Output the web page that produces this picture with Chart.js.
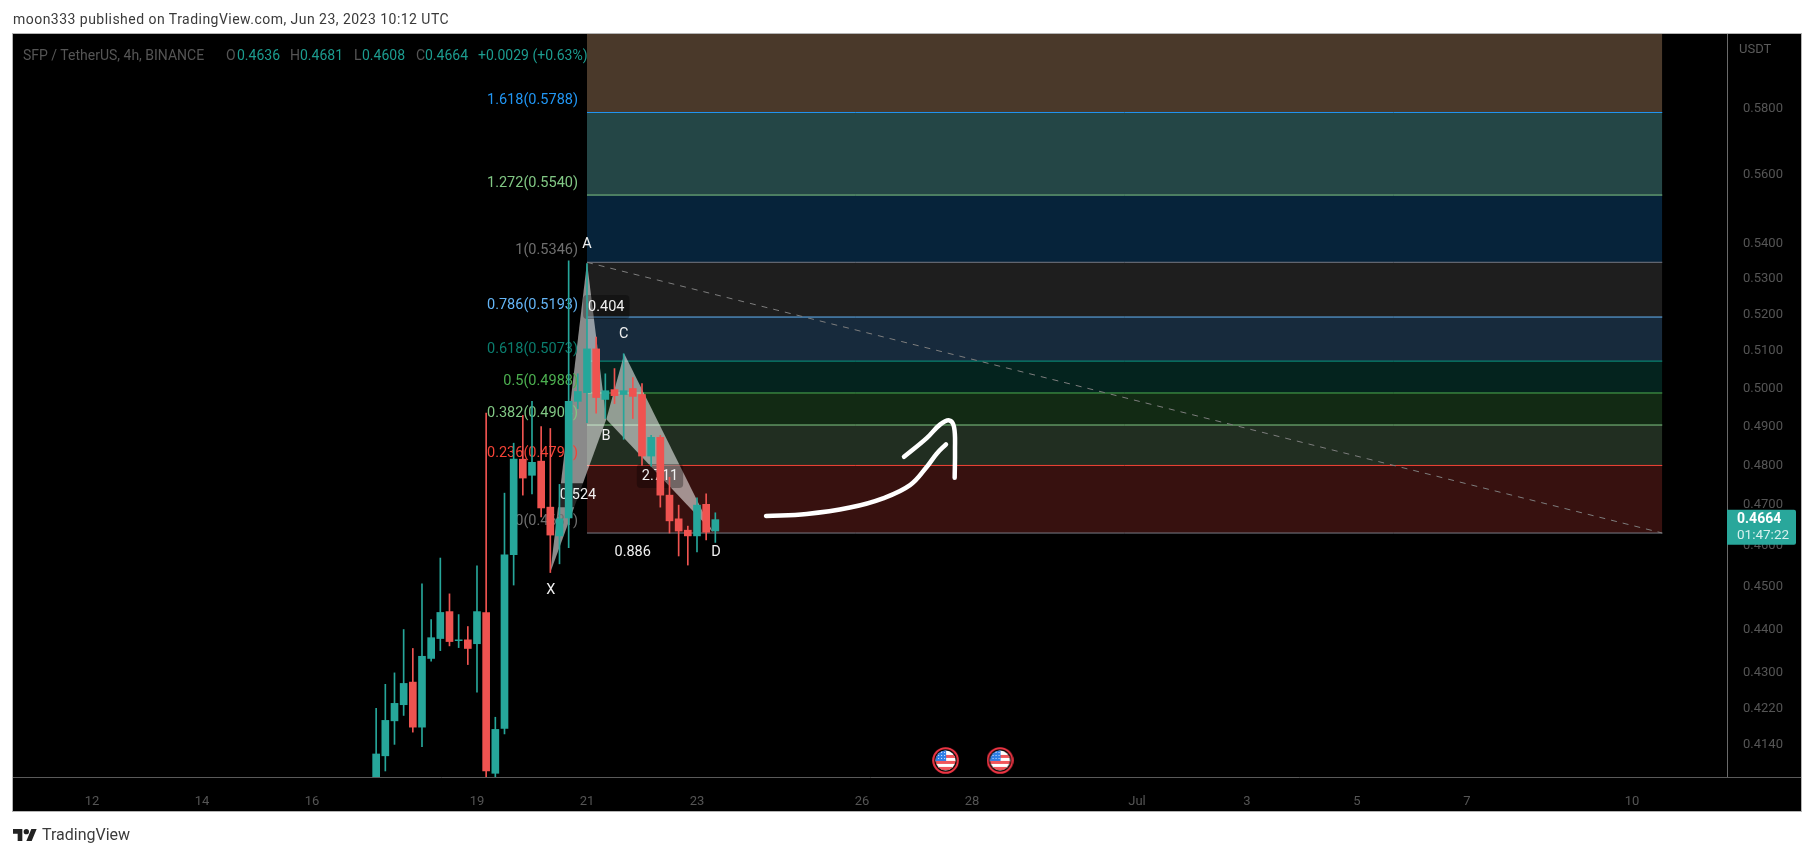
<!DOCTYPE html>
<html lang="en">
<head>
<meta charset="UTF-8">
<title>SFP / TetherUS</title>
<script src="https://cdn.jsdelivr.net/npm/chart.js@4/dist/chart.umd.min.js"></script>
<style>
    html, body { margin: 0; padding: 0; background: #fff; overflow: hidden; }
    body { width: 1815px; height: 856px; position: relative; font-family: Roboto, sans-serif; }
    canvas { position: absolute; left: 0; top: 0; }
    .txt { position: absolute; white-space: nowrap; }
    #published { left: 13px; top: 11px; font-size: 14px; color: #3a3a3a; letter-spacing: 0.47px; }
    #legend { left: 23px; top: 47px; font-size: 14px; color: #555; }
    #legend span { position: absolute; top: 0; }
    #legend .v { color: #1c9c8f; }
    #footer { left: 42px; top: 825px; font-size: 16px; color: #3c3c3c; }
    #logo { position: absolute; left: 13px; top: 829px; }
</style>
</head>
<body>
<canvas id="chart" width="1815" height="856"></canvas>
<div class="txt" id="published">moon333 published on TradingView.com, Jun 23, 2023 10:12 UTC</div>
<div class="txt" id="legend">
    <span style="left:0">SFP / TetherUS, 4h, BINANCE</span>
    <span style="left:203px">O</span><span class="v" style="left:214px">0.4636</span>
    <span style="left:267px">H</span><span class="v" style="left:277px">0.4681</span>
    <span style="left:331px">L</span><span class="v" style="left:339px">0.4608</span>
    <span style="left:393px">C</span><span class="v" style="left:402px">0.4664</span>
    <span class="v" style="left:455px">+0.0029 (+0.63%)</span>
</div>
<svg id="logo" width="24" height="12" viewBox="0 4 36 18"><path fill="#222" d="M14 22H7V11H0V4h14v18zM28 22h-8l7.5-18h8L28 22z"/><circle fill="#222" cx="20" cy="8" r="4"/></svg>
<div class="txt" id="footer">TradingView</div>
<script>
    // candles, 4h, hours counted from Jun 17 00:00
    const candleHours = [4, 8, 12, 16, 20, 24, 28, 32, 36, 40, 44, 48, 52, 56, 60, 64, 68, 72, 76, 80, 84, 88, 92, 96, 100, 104, 108, 112, 116, 120, 124, 128, 132, 136, 140, 144, 148, 152];
    const opens  = [0.4040, 0.4115, 0.4192, 0.4228, 0.4279, 0.4178, 0.4333, 0.4379, 0.4442, 0.4374, 0.4376, 0.4367, 0.4440, 0.4077, 0.4175, 0.4578, 0.4816, 0.4775, 0.4811, 0.4695, 0.4624, 0.4668, 0.4966, 0.4989, 0.5106, 0.4971, 0.4997, 0.4984, 0.5000, 0.4984, 0.4824, 0.4872, 0.4725, 0.4666, 0.4638, 0.4624, 0.4702, 0.4636];
    const highs  = [0.4220, 0.4274, 0.4300, 0.4400, 0.4356, 0.4508, 0.4423, 0.4570, 0.4484, 0.4435, 0.4407, 0.4551, 0.4935, 0.4200, 0.4730, 0.4857, 0.4929, 0.4966, 0.4900, 0.4895, 0.4752, 0.5350, 0.5039, 0.5342, 0.5138, 0.5039, 0.5053, 0.5093, 0.5029, 0.5013, 0.4877, 0.4877, 0.4770, 0.4700, 0.4648, 0.4718, 0.4728, 0.4681];
    const lows   = [0.4000, 0.4082, 0.4140, 0.4204, 0.4167, 0.4135, 0.4327, 0.4351, 0.4362, 0.4358, 0.4319, 0.4256, 0.4043, 0.4069, 0.4163, 0.4505, 0.4725, 0.4728, 0.4671, 0.4535, 0.4556, 0.4595, 0.4947, 0.4910, 0.4935, 0.4921, 0.4960, 0.4867, 0.4921, 0.4800, 0.4798, 0.4695, 0.4631, 0.4575, 0.4553, 0.4585, 0.4614, 0.4608];
    const closes = [0.4119, 0.4193, 0.4231, 0.4276, 0.4178, 0.4338, 0.4381, 0.4440, 0.4372, 0.4376, 0.4356, 0.4442, 0.4082, 0.4173, 0.4578, 0.4816, 0.4768, 0.4808, 0.4693, 0.4626, 0.4666, 0.4966, 0.4992, 0.5106, 0.4976, 0.4994, 0.4981, 0.4994, 0.4979, 0.4824, 0.4872, 0.4725, 0.4661, 0.4636, 0.4624, 0.4700, 0.4633, 0.4664];

    // axis ticks
    const tickDays = [12, 14, 16, 19, 21, 23, 26, 28, 31, 33, 35, 37, 40];
    const tickLabels = ['12', '14', '16', '19', '21', '23', '26', '28', 'Jul', '3', '5', '7', '10'];
    const priceTicks = [0.58, 0.56, 0.54, 0.53, 0.52, 0.51, 0.50, 0.49, 0.48, 0.47, 0.46, 0.45, 0.44, 0.43, 0.422, 0.414];

    // fib retracement, top to bottom
    const fibNames  = ['1.618', '1.272', '1', '0.786', '0.618', '0.5', '0.382', '0.236', '0'];
    const fibPrices = [0.5788, 0.5540, 0.5346, 0.5193, 0.5073, 0.4988, 0.4904, 0.4800, 0.4631];
    const fibText   = ['0.5788', '0.5540', '0.5346', '0.5193', '0.5073', '0.4988', '0.4904', '0.4799', '0.4631'];
    const fibDays   = [21, 40.55];

    // harmonic pattern XABCD
    const patternDays   = [20.333, 21, 21.351, 21.678, 23.29];
    const patternPrices = [0.4535, 0.5346, 0.4919, 0.5093, 0.4633];
    const noteLabels = ['A', '0.404', 'C', 'B', 'D', '0.886', 'X', '2.711', '0.524'];
    const noteDays   = [21, 21.351, 21.667, 21.345, 23.345, 21.831, 20.34, 22.327, 20.836];
    const notePrices = [0.5398, 0.5221, 0.5145, 0.4875, 0.4583, 0.4583, 0.4492, 0.4773, 0.4725];

    // hand drawn arrow
    const arrowDays1   = [24.255, 24.995, 25.782, 26.382, 26.873, 27.176, 27.358, 27.527];
    const arrowPrices1 = [0.4673, 0.4678, 0.4694, 0.4717, 0.4750, 0.4796, 0.4830, 0.4854];
    const arrowDays2   = [26.764, 27.176, 27.418, 27.587, 27.673, 27.691, 27.685];
    const arrowPrices2 = [0.4822, 0.4870, 0.4905, 0.4916, 0.4899, 0.4839, 0.4769];

    const eventDays = [27.52, 28.51];
    const eventPrice = 0.4105;
    const lastPrice = 0.4664;
    const countdown = '01:47:22';

    // styles
    const GREEN = '#26a69a', RED = '#ef5350';
    const fibLine = ['#2196f3', '#81c784', '#787b86', '#64b5f6', '#089981', '#4caf50', '#81c784', '#f44336', '#787b86'];
    const fibFill = ['#244646', '#06233a', '#1e1e1e', '#172a3c', '#04231e', '#122a14', '#212e21', '#37110f'];
    const fibTextColor = ['#2196f3', '#81c784', '#6f6f6f', '#64b5f6', '#0b7d6e', '#4caf50', '#81c784', '#f44336', '#6f6f6f'];
    const noteShade = [0, 0.3, 0, 0, 0, 0, 0, 0.3, 0.72];
    const FONT = 'Roboto, sans-serif';

    const toDay = h => 17 + h / 24;
    const pairs = (xs, ys) => xs.map((x, i) => ({ x: x, y: ys[i] }));

    function lineSet(data, extra) {
        return Object.assign({
            type: 'line', data: data, pointRadius: 0, borderWidth: 1, tension: 0, fill: false, order: 9
        }, extra);
    }

    const datasets = [];
    const fibRow = p => [{ x: fibDays[0], y: p }, { x: fibDays[1], y: p }];

    // band fills first, so the level lines stay on top of them
    fibPrices.forEach((p, i) => {
        const fill = i === fibPrices.length - 1 ? false : { target: '+1', above: fibFill[i], below: fibFill[i] };
        datasets.push(lineSet(fibRow(p), { borderWidth: 0, fill: fill, order: 10 }));
    });
    // band above 1.618 runs to the top of the pane
    datasets.push(lineSet(fibRow(fibPrices[0]), { borderWidth: 0, fill: 'end', backgroundColor: '#4a392a', order: 11 }));
    fibPrices.forEach((p, i) => {
        datasets.push(lineSet(fibRow(p), { borderColor: fibLine[i] }));
    });

    // dashed trend line
    datasets.push(lineSet([{ x: fibDays[0], y: fibPrices[2] }, { x: fibDays[1], y: fibPrices[8] }], {
        borderColor: '#7d7d7d', borderDash: [6, 6], order: 8
    }));

    // two triangles, each an upper path filled down to its base
    const triFill = 'rgba(255,255,255,0.54)';
    [[0, 1, 2], [2, 3, 4]].forEach(t => {
        datasets.push(lineSet(t.map(k => ({ x: patternDays[k], y: patternPrices[k] })), {
            borderWidth: 0, order: 6, fill: { target: '+1', above: triFill, below: triFill }
        }));
        datasets.push(lineSet([t[0], t[2]].map(k => ({ x: patternDays[k], y: patternPrices[k] })), {
            borderWidth: 0, order: 6
        }));
    });

    // candles: wicks then bodies
    const candleColors = opens.map((o, i) => closes[i] >= o ? GREEN : RED);
    const wickIndex = datasets.length;
    datasets.push({
        type: 'bar', order: 2, grouped: false, barThickness: 1, backgroundColor: candleColors,
        data: candleHours.map((h, i) => ({ x: toDay(h), y: [lows[i], highs[i]] }))
    });
    datasets.push({
        type: 'bar', order: 1, grouped: false, barThickness: 7, backgroundColor: candleColors,
        data: candleHours.map((h, i) => ({ x: toDay(h), y: [Math.min(opens[i], closes[i]), Math.max(opens[i], closes[i])] }))
    });

    // arrow
    [[arrowDays1, arrowPrices1], [arrowDays2, arrowPrices2]].forEach(a => {
        datasets.push(lineSet(pairs(a[0], a[1]), {
            borderColor: '#fff', borderWidth: 4.5, borderCapStyle: 'round', borderJoinStyle: 'round', tension: 0.4, order: 0
        }));
    });

    // event marker: red ring, black gap, round flag
    function flagIcon() {
        const c = document.createElement('canvas');
        c.width = 27; c.height = 27;
        const g = c.getContext('2d');
        const disc = (r, col) => { g.beginPath(); g.arc(13.5, 13.5, r, 0, Math.PI * 2); g.fillStyle = col; g.fill(); };
        disc(13.3, '#f23645');
        disc(11.2, '#000');
        disc(10, '#fff');
        g.clip();
        g.fillStyle = '#f0555a';
        g.fillRect(0, 8, 27, 3);
        g.fillRect(0, 14, 27, 3);
        g.fillRect(0, 20, 27, 3);
        g.fillStyle = '#2f7fe6';
        g.fillRect(3, 3, 11, 11);
        g.fillStyle = '#dfeaff';
        for (let y = 5; y < 14; y += 3) for (let x = 6; x < 14; x += 3) g.fillRect(x, y, 1, 1);
        return c;
    }
    datasets.push({
        type: 'scatter', order: 0, pointStyle: flagIcon(), pointRadius: 13,
        data: eventDays.map(d => ({ x: d, y: eventPrice }))
    });

    // pane background and outer border
    const framePlugin = {
        id: 'frame',
        beforeDraw(chart) {
            const a = chart.chartArea, g = chart.ctx;
            g.save();
            g.fillStyle = '#000';
            g.fillRect(a.left, a.top, 1802 - a.left, 812 - a.top);
            g.restore();
        },
        afterDraw(chart) {
            const a = chart.chartArea, g = chart.ctx, y = chart.scales.y;
            g.save();
            g.strokeStyle = '#5a5a5a';
            g.beginPath(); g.moveTo(a.right, a.bottom + 0.5); g.lineTo(1802, a.bottom + 0.5); g.stroke();
            g.strokeStyle = '#b4b4b4';
            g.strokeRect(a.left - 0.5, a.top - 0.5, 1802 - a.left, 812 - a.top);
            g.font = '13px ' + FONT;
            g.fillStyle = '#5a5a5a';
            g.textBaseline = 'middle';
            g.fillText('USDT', a.right + 12, 50);

            // last price tag
            const top = y.getPixelForValue(lastPrice) - 10;
            g.fillStyle = '#29a79b';
            g.beginPath(); g.roundRect(a.right, top, 69, 35, [0, 2, 2, 0]); g.fill();
            g.font = 'bold 14px ' + FONT;
            g.fillStyle = '#fff';
            g.fillText(lastPrice.toFixed(4), a.right + 10, top + 10);
            g.font = '13.5px ' + FONT;
            g.fillStyle = '#d7f1ee';
            g.fillText(countdown, a.right + 10, top + 26);
            g.restore();
        }
    };

    // fib and pattern labels sit under the candles
    const labelPlugin = {
        id: 'labels',
        beforeDatasetDraw(chart, args) {
            if (args.index !== wickIndex) return;
            const g = chart.ctx, x = chart.scales.x, y = chart.scales.y;
            g.save();
            g.textBaseline = 'middle';
            g.font = '14.5px ' + FONT;
            g.textAlign = 'right';
            const left = x.getPixelForValue(fibDays[0]);
            fibNames.forEach((n, i) => {
                g.fillStyle = fibTextColor[i];
                g.fillText(n + '(' + fibText[i] + ')', left - 9, y.getPixelForValue(fibPrices[i]) - 12);
            });
            g.textAlign = 'center';
            noteLabels.forEach((n, i) => {
                const px = x.getPixelForValue(noteDays[i]), py = y.getPixelForValue(notePrices[i]);
                if (noteShade[i] > 0) {
                    const w = g.measureText(n).width + 10;
                    // the shade only shows on the triangle, stop it at the band edge
                    const end = px < left ? Math.min(px + w / 2, left) : px + w / 2;
                    g.fillStyle = 'rgba(0,0,0,' + noteShade[i] + ')';
                    g.beginPath(); g.roundRect(px - w / 2, py - 12, end - px + w / 2, 24, 4); g.fill();
                }
                g.fillStyle = '#f0f0f0';
                g.fillText(n, px, py);
            });
            g.restore();
        }
    };

    new Chart(document.getElementById('chart'), {
        type: 'bar',
        data: { datasets: datasets },
        plugins: [framePlugin, labelPlugin],
        options: {
            responsive: false,
            animation: false,
            events: [],
            devicePixelRatio: 1,
            layout: { autoPadding: false, padding: { left: 13, top: 34, right: 13, bottom: 44 } },
            plugins: { legend: { display: false }, tooltip: { enabled: false }, filler: { propagate: false } },
            scales: {
                x: {
                    type: 'linear', offset: false, min: 10.564, max: 41.727,
                    afterFit(s) { s.height = 35; },
                    afterBuildTicks(s) { s.ticks = tickDays.map(d => ({ value: d })); },
                    grid: { display: false },
                    border: { color: '#5a5a5a' },
                    ticks: {
                        autoSkip: false, maxRotation: 0, color: '#555', padding: 9,
                        font: { family: FONT, size: 13 },
                        callback: v => tickLabels[tickDays.indexOf(v)]
                    }
                },
                y: {
                    type: 'logarithmic', position: 'right', min: 0.4069, max: 0.6034,
                    afterFit(s) { s.width = 75; },
                    afterBuildTicks(s) { s.ticks = priceTicks.map(p => ({ value: p })); },
                    grid: { display: false },
                    border: { color: '#6a6a6a' },
                    ticks: {
                        autoSkip: false, color: '#555', padding: 8,
                        font: { family: FONT, size: 13 },
                        callback: v => v.toFixed(4)
                    }
                }
            }
        }
    });
</script>
</body>
</html>
